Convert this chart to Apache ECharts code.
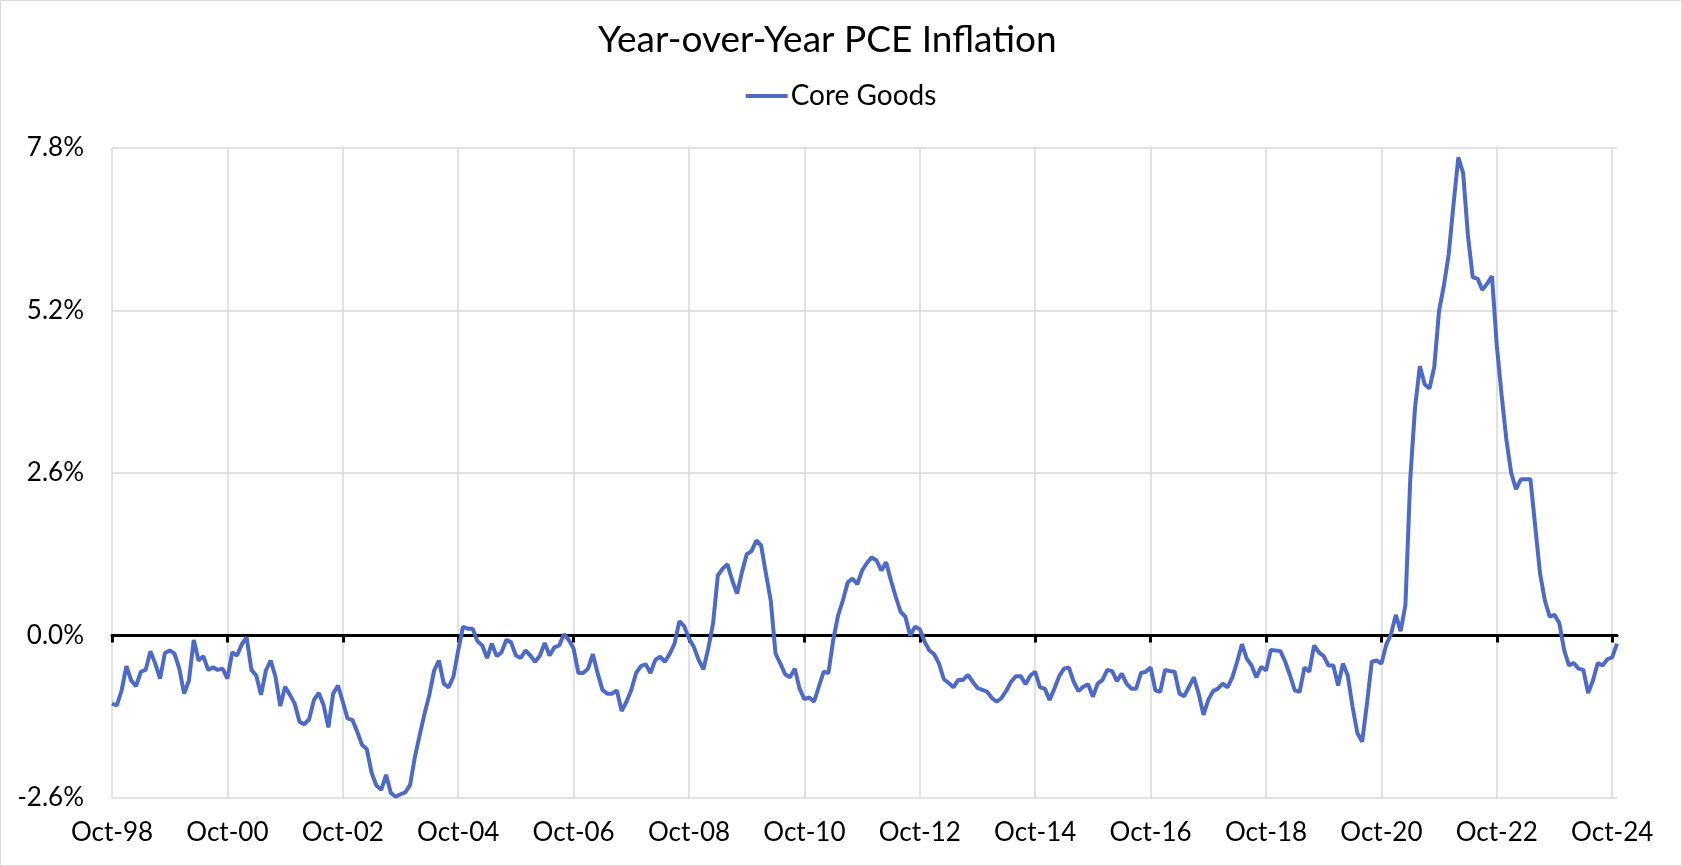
<!DOCTYPE html>
<html>
<head>
<meta charset="utf-8">
<script src="https://cdn.jsdelivr.net/npm/echarts@6/dist/echarts.min.js"></script>
<style>
  html, body { margin: 0; padding: 0; background: #fff; }
  #chart { width: 1682px; height: 866px; box-sizing: border-box; border: 1px solid #d9d9d9; }
</style>
</head>
<body>
<div id="chart"></div>
<script>
// Monthly YoY % change, Oct-1998 .. Nov-2024
const coreGoods = [
  -1.09,-1.12,-0.88,-0.49,-0.72,-0.81,-0.58,-0.55,-0.25,-0.45,-0.69,-0.28,
  -0.24,-0.29,-0.53,-0.93,-0.72,-0.07,-0.40,-0.33,-0.55,-0.51,-0.55,-0.53,
  -0.69,-0.27,-0.32,-0.14,-0.03,-0.55,-0.64,-0.95,-0.56,-0.40,-0.66,-1.13,
  -0.82,-0.95,-1.09,-1.38,-1.42,-1.34,-1.03,-0.92,-1.11,-1.47,-0.93,-0.80,
  -1.06,-1.33,-1.35,-1.54,-1.75,-1.82,-2.20,-2.40,-2.47,-2.23,-2.52,-2.58,
  -2.54,-2.51,-2.39,-1.94,-1.59,-1.25,-0.95,-0.56,-0.40,-0.77,-0.83,-0.66,
  -0.24,0.14,0.11,0.11,-0.09,-0.16,-0.36,-0.13,-0.33,-0.27,-0.07,-0.11,
  -0.32,-0.36,-0.24,-0.32,-0.42,-0.32,-0.12,-0.32,-0.19,-0.16,0.02,-0.07,
  -0.21,-0.60,-0.60,-0.53,-0.30,-0.60,-0.87,-0.93,-0.93,-0.88,-1.21,-1.06,
  -0.87,-0.60,-0.49,-0.46,-0.60,-0.39,-0.34,-0.42,-0.29,-0.13,0.23,0.15,
  -0.05,-0.18,-0.39,-0.54,-0.21,0.19,0.96,1.07,1.14,0.88,0.67,1.01,
  1.30,1.35,1.52,1.44,0.99,0.56,-0.29,-0.45,-0.62,-0.67,-0.53,-0.85,
  -1.02,-0.99,-1.06,-0.82,-0.58,-0.60,-0.07,0.32,0.56,0.85,0.91,0.82,
  1.04,1.16,1.25,1.20,1.04,1.17,0.88,0.62,0.38,0.30,0.00,0.14,
  0.10,-0.10,-0.24,-0.30,-0.45,-0.70,-0.76,-0.83,-0.71,-0.71,-0.63,-0.74,
  -0.84,-0.87,-0.90,-1.00,-1.06,-1.00,-0.88,-0.74,-0.65,-0.65,-0.78,-0.64,
  -0.58,-0.83,-0.85,-1.03,-0.85,-0.65,-0.53,-0.51,-0.74,-0.89,-0.82,-0.78,
  -0.98,-0.77,-0.71,-0.55,-0.57,-0.73,-0.61,-0.77,-0.85,-0.85,-0.60,-0.58,
  -0.51,-0.88,-0.90,-0.55,-0.57,-0.58,-0.93,-0.97,-0.82,-0.67,-0.93,-1.27,
  -1.03,-0.89,-0.85,-0.77,-0.83,-0.67,-0.42,-0.14,-0.37,-0.48,-0.67,-0.50,
  -0.56,-0.23,-0.24,-0.25,-0.42,-0.64,-0.88,-0.90,-0.51,-0.58,-0.16,-0.27,
  -0.33,-0.48,-0.48,-0.80,-0.45,-0.64,-1.14,-1.56,-1.70,-1.09,-0.42,-0.40,
  -0.45,-0.15,0.02,0.33,0.07,0.49,2.50,3.65,4.31,4.02,3.95,4.30,
  5.20,5.60,6.10,6.90,7.65,7.40,6.40,5.73,5.71,5.53,5.63,5.75,
  4.64,3.85,3.13,2.60,2.34,2.50,2.50,2.50,1.74,0.99,0.56,0.30,
  0.33,0.20,-0.23,-0.48,-0.44,-0.53,-0.55,-0.92,-0.72,-0.44,-0.48,-0.38,
  -0.35,-0.13
];
const seriesName = 'Core Goods';
const titleText = 'Year-over-Year PCE Inflation';
const monthNames = ['Jan','Feb','Mar','Apr','May','Jun','Jul','Aug','Sep','Oct','Nov','Dec'];
const startYear = 1998, startMonthIndex = 9; // Oct-98
const yTicks = [-2.6, 0.0, 2.6, 5.2, 7.8];

const categories = coreGoods.map((_, i) => {
  const mi = startMonthIndex + i;
  const y = startYear + Math.floor(mi / 12);
  return monthNames[mi % 12] + '-' + String(y % 100).padStart(2, '0');
});

const FONT = 'Lato, "Noto Sans", sans-serif';
const chart = echarts.init(document.getElementById('chart'), null, { renderer: 'canvas' });
chart.setOption({
  animation: false,
  backgroundColor: '#ffffff',
  textStyle: { fontFamily: FONT },
  title: {
    text: titleText,
    left: 597,
    top: 21,
    padding: 0,
    textStyle: { fontFamily: FONT, fontSize: 37, fontWeight: 'normal', color: '#000' }
  },
  legend: {
    data: [seriesName],
    left: 'center',
    top: 76,
    icon: 'rect',
    itemWidth: 42,
    itemHeight: 4,
    textStyle: { fontFamily: FONT, fontSize: 28, color: '#000', padding: [0, 0, 0, -2] }
  },
  grid: { left: 111, right: 64, top: 147, bottom: 67, containLabel: false },
  xAxis: [
    {
      type: 'category',
      data: categories,
      boundaryGap: false,
      position: 'bottom',
      axisLine: { show: false, onZero: false },
      axisTick: { show: false },
      axisLabel: { interval: 23, fontFamily: FONT, fontSize: 26, color: '#000', margin: 22 },
      splitLine: { show: true, interval: 23, lineStyle: { color: '#d9d9d9', width: 1.5 } }
    },
    {
      type: 'category',
      data: categories,
      boundaryGap: false,
      position: 'bottom',
      axisLine: { show: true, onZero: true, lineStyle: { color: '#000', width: 3 } },
      axisTick: { show: true, interval: 23, length: 7, lineStyle: { color: '#000', width: 3 } },
      axisLabel: { show: false },
      splitLine: { show: false }
    }
  ],
  yAxis: {
    type: 'value',
    min: yTicks[0],
    max: yTicks[yTicks.length - 1],
    interval: 2.6,
    axisLine: { show: false },
    axisTick: { show: false },
    axisLabel: {
      fontFamily: FONT, fontSize: 26, color: '#000', margin: 28,
      formatter: v => v.toFixed(1) + '%'
    },
    splitLine: { show: true, lineStyle: { color: '#d9d9d9', width: 1.5 } }
  },
  series: [{
    name: seriesName,
    type: 'line',
    xAxisIndex: 0,
    data: coreGoods,
    showSymbol: false,
    symbol: 'none',
    lineStyle: { color: '#4E6AC9', width: 4 },
    itemStyle: { color: '#4E6AC9' },
    z: 5
  }]
});
</script>
</body>
</html>
